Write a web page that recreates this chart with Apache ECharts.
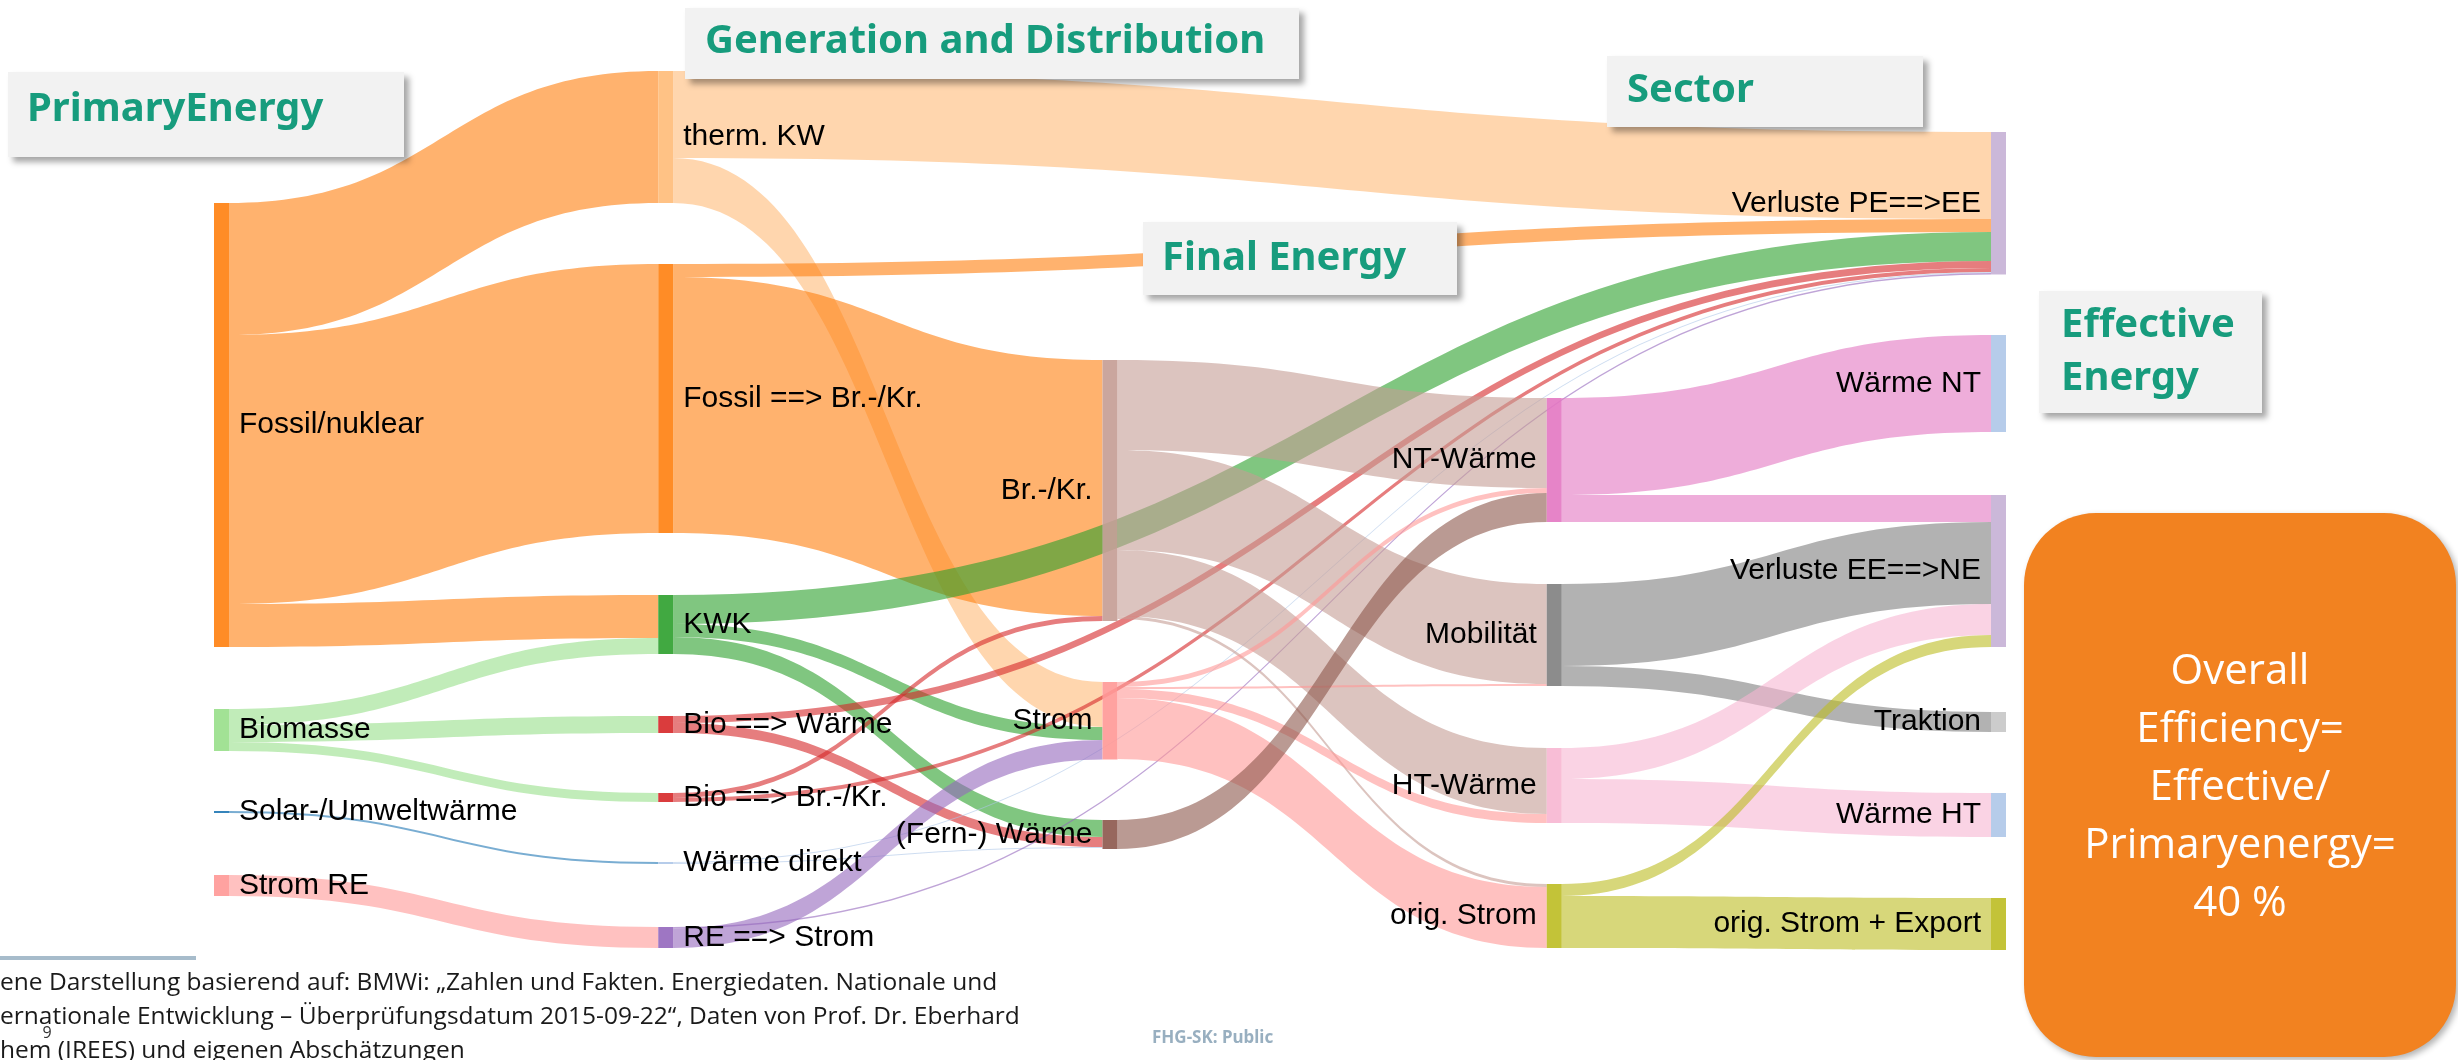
<!DOCTYPE html>
<html>
<head>
<meta charset="utf-8">
<title>Energiefluss Sankey</title>
<script src="https://cdn.jsdelivr.net/npm/echarts@6/dist/echarts.min.js"></script>
<style>
  html, body { margin: 0; padding: 0; background: #fff; }
  #sankey-chart { width: 2458px; height: 1060px; }
</style>
</head>
<body>
<div id="sankey-chart"></div>
<script>
// nodes, column by column (0 = primary energy ... 4 = effective energy)
const nodeNames = [
  "Fossil/nuklear", "Biomasse", "Solar-/Umweltwärme", "Strom RE",
  "therm. KW", "Fossil ==> Br.-/Kr.", "KWK", "Bio ==> Wärme", "Bio ==> Br.-/Kr.", "Wärme direkt", "RE ==> Strom",
  "Br.-/Kr.", "Strom", "(Fern-) Wärme",
  "NT-Wärme", "Mobilität", "HT-Wärme", "orig. Strom",
  "Verluste PE==>EE", "Wärme NT", "Verluste EE==>NE", "Traktion", "Wärme HT", "orig. Strom + Export"
];
const nodeColumn = [0, 0, 0, 0, 1, 1, 1, 1, 1, 1, 1, 2, 2, 2, 3, 3, 3, 3, 4, 4, 4, 4, 4, 4];

const linkSource = [
  "Fossil/nuklear", "Fossil/nuklear", "Fossil/nuklear",
  "Biomasse", "Biomasse", "Biomasse",
  "Solar-/Umweltwärme", "Strom RE",
  "therm. KW", "therm. KW",
  "Fossil ==> Br.-/Kr.", "Fossil ==> Br.-/Kr.",
  "KWK", "KWK", "KWK",
  "Bio ==> Wärme", "Bio ==> Wärme",
  "Bio ==> Br.-/Kr.", "Bio ==> Br.-/Kr.",
  "Wärme direkt", "Wärme direkt",
  "RE ==> Strom", "RE ==> Strom",
  "Br.-/Kr.", "Br.-/Kr.", "Br.-/Kr.", "Br.-/Kr.",
  "Strom", "Strom", "Strom", "Strom",
  "(Fern-) Wärme",
  "NT-Wärme", "NT-Wärme",
  "Mobilität", "Mobilität",
  "HT-Wärme", "HT-Wärme",
  "orig. Strom", "orig. Strom"
];
const linkTarget = [
  "therm. KW", "Fossil ==> Br.-/Kr.", "KWK",
  "KWK", "Bio ==> Wärme", "Bio ==> Br.-/Kr.",
  "Wärme direkt", "RE ==> Strom",
  "Verluste PE==>EE", "Strom",
  "Verluste PE==>EE", "Br.-/Kr.",
  "Verluste PE==>EE", "Strom", "(Fern-) Wärme",
  "Verluste PE==>EE", "(Fern-) Wärme",
  "Br.-/Kr.", "Verluste PE==>EE",
  "Verluste PE==>EE", "(Fern-) Wärme",
  "Verluste PE==>EE", "Strom",
  "NT-Wärme", "Mobilität", "HT-Wärme", "orig. Strom",
  "NT-Wärme", "Mobilität", "HT-Wärme", "orig. Strom",
  "NT-Wärme",
  "Wärme NT", "Verluste EE==>NE",
  "Verluste EE==>NE", "Traktion",
  "Verluste EE==>NE", "Wärme HT",
  "Verluste EE==>NE", "orig. Strom + Export"
];
const linkValue = [
  132, 269, 43,
  16, 17, 9,
  2, 21,
  87, 45,
  13, 256,
  29, 13, 17,
  7, 10,
  5, 4,
  1, 1,
  1.5, 19.5,
  90, 100, 66, 3,
  5, 2, 9, 61,
  29,
  97, 27,
  82, 20,
  31, 44,
  12, 52
];

// layout: vertical start of every node in px, as placed in the picture
const nodeTop = [
  203, 709, 811, 875,
  71, 264, 595, 716, 793, 862, 927,
  360, 682, 820,
  398, 584, 748, 884,
  132, 335, 495, 712, 793, 898
];
const nodeColors = [
  "#ff7f0e", "#98df8a", "#1f77b4", "#ff9896",
  "#ffbb78", "#ff7f0e", "#2ca02c", "#d62728", "#d62728", "#aec7e8", "#9467bd",
  "#c49c94", "#ff9896", "#8c564b",
  "#e377c2", "#7f7f7f", "#f7b6d2", "#bcbd22",
  "#c5b0d5", "#aec7e8", "#c5b0d5", "#c7c7c7", "#aec7e8", "#bcbd22"
];

const chartH = 1060;

// gap so that 1 value unit = 1 px
let nodeVal = {};
nodeNames.forEach(n => nodeVal[n] = { inV: 0, outV: 0 });
linkValue.forEach((v, i) => {
  nodeVal[linkSource[i]].outV += v;
  nodeVal[linkTarget[i]].inV += v;
});
let gap = Infinity;
for (let c = 0; c <= 4; c++) {
  let sum = 0, cnt = 0;
  nodeNames.forEach((n, i) => {
    if (nodeColumn[i] === c) {
      sum += Math.max(nodeVal[n].inV, nodeVal[n].outV);
      cnt++;
    }
  });
  if (cnt > 1) gap = Math.min(gap, (chartH - sum) / (cnt - 1));
}

let nodes = nodeNames.map((n, i) => ({
  name: n,
  depth: nodeColumn[i],
  localY: nodeTop[i] / chartH,
  itemStyle: { color: nodeColors[i], opacity: 0.9, borderWidth: 0 },
  label: { position: nodeColumn[i] < 2 ? "right" : "left" }
}));
let links = linkValue.map((v, i) => ({
  source: linkSource[i],
  target: linkTarget[i],
  value: v
}));

let myChart = echarts.init(document.getElementById("sankey-chart"));

const titleFont = 'bold 40px "Noto Sans", "Open Sans", sans-serif';
const titleColor = "#179c7d";
function titleBox(x, y, w, h, lines, tx, ty) {
  let els = [{
    type: "rect",
    z: 100,
    shape: { x: x, y: y, width: w, height: h },
    style: {
      fill: "#f2f2f2",
      shadowBlur: 6,
      shadowOffsetX: 5,
      shadowOffsetY: 5,
      shadowColor: "rgba(0,0,0,0.35)"
    }
  }];
  lines.forEach((t, k) => {
    els.push({
      type: "text",
      z: 101,
      style: {
        text: t, x: tx, y: ty + k * 53,
        fill: titleColor, font: titleFont,
        align: "left", verticalAlign: "middle"
      }
    });
  });
  return els;
}

let graphics = [].concat(
  titleBox(8, 72, 396, 85, ["PrimaryEnergy"], 27, 110),
  titleBox(685, 8, 614, 71, ["Generation and Distribution"], 705, 42),
  titleBox(1607, 56, 316, 71, ["Sector"], 1627, 91),
  titleBox(1143, 222, 314, 73, ["Final Energy"], 1162, 259),
  titleBox(2039, 291, 223, 122, ["Effective", "Energy"], 2061, 326)
);

graphics.push(
  {
    type: "rect",
    z: 100,
    shape: { x: 2024, y: 513, width: 432, height: 544, r: 72 },
    style: {
      fill: "#f28220",
      shadowBlur: 6,
      shadowOffsetX: 3,
      shadowOffsetY: 3,
      shadowColor: "rgba(0,0,0,0.3)"
    }
  },
  {
    type: "text",
    z: 101,
    style: {
      text: "Overall\nEfficiency=\nEffective/\nPrimaryenergy=\n40 %",
      x: 2240, y: 643,
      fill: "#ffffff",
      font: '42px "Open Sans", "Noto Sans", sans-serif',
      lineHeight: 58,
      align: "center", verticalAlign: "top"
    }
  },
  {
    type: "rect",
    z: 100,
    shape: { x: 0, y: 956, width: 196, height: 4 },
    style: { fill: "#a7bccb" }
  },
  {
    type: "text",
    z: 101,
    style: {
      text: "ene Darstellung basierend auf: BMWi: \u201EZahlen und Fakten. Energiedaten. Nationale und\n" +
            "ernationale Entwicklung \u2013 \u00DCberpr\u00FCfungsdatum 2015-09-22\u201C, Daten von Prof. Dr. Eberhard\n" +
            "hem (IREES) und eigenen Absch\u00E4tzungen",
      x: 0, y: 966,
      fill: "#1a1a1a",
      font: '24.5px "Open Sans", "Noto Sans", sans-serif',
      lineHeight: 34,
      align: "left", verticalAlign: "top"
    }
  },
  {
    type: "text",
    z: 102,
    style: {
      text: "9", x: 47, y: 1033,
      fill: "#333", font: '16px "Open Sans", sans-serif',
      align: "center", verticalAlign: "middle"
    }
  },
  {
    type: "text",
    z: 101,
    style: {
      text: "FHG-SK: Public", x: 1152, y: 1038,
      fill: "#98afc0", font: 'bold 17px "Noto Sans", sans-serif',
      align: "left", verticalAlign: "middle"
    }
  }
);

let option = {
  animation: false,
  backgroundColor: "#ffffff",
  tooltip: { show: false },
  series: [
    {
      type: "sankey",
      left: 214,
      top: 0,
      width: 1792,
      height: chartH,
      nodeWidth: 15,
      nodeGap: gap,
      nodeAlign: "left",
      layoutIterations: 0,
      draggable: false,
      emphasis: { disabled: true },
      data: nodes,
      links: links,
      lineStyle: { color: "source", opacity: 0.6, curveness: 0.5 },
      label: {
        show: true,
        color: "#000",
        fontFamily: '"Liberation Sans", Arial, sans-serif',
        fontSize: 30,
        distance: 10,
        textBorderWidth: 0
      }
    }
  ],
  graphic: graphics
};
myChart.setOption(option);
</script>
</body>
</html>
